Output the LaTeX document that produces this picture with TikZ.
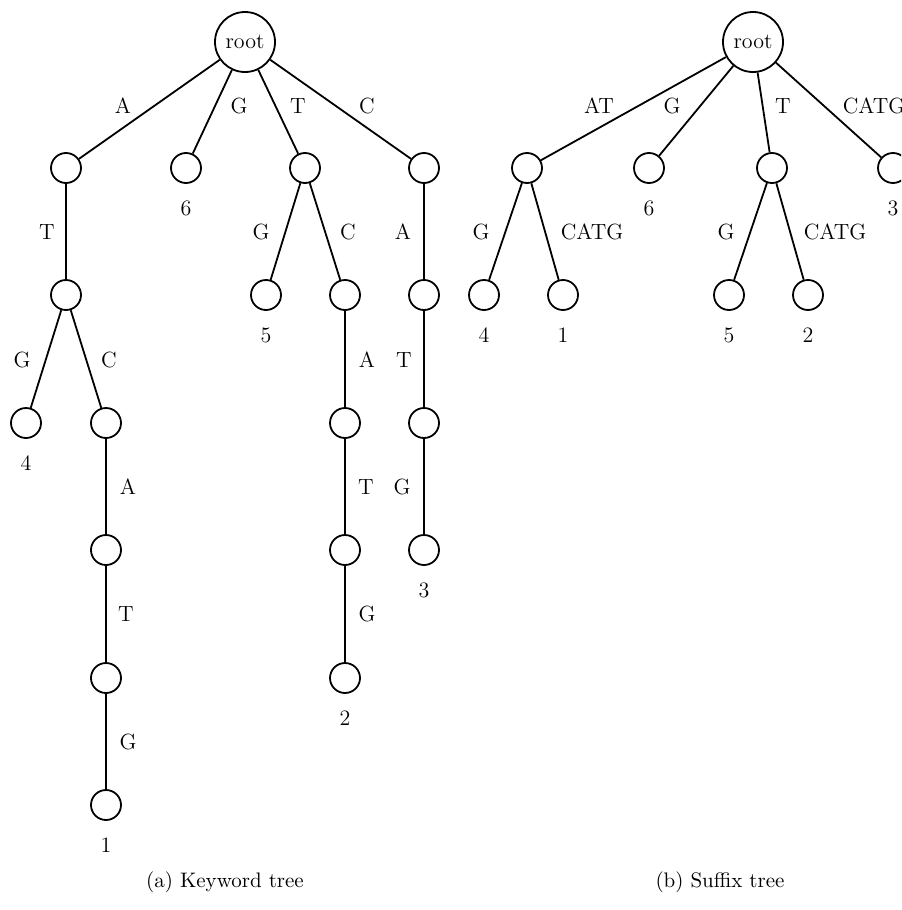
\documentclass[tikz,border=0pt]{standalone}
\begin{document}
\begin{tikzpicture}[x=0.5pt,y=-0.5pt,
  nd/.style={circle,draw,line width=0.9pt,inner sep=0pt,minimum size=15pt},
  rootnd/.style={circle,draw,line width=0.9pt,inner sep=0pt,minimum size=30pt,font=\fontsize{11}{13}\selectfont},
  lbl/.style={font=\fontsize{11}{13}\selectfont,inner sep=0pt},
  captxt/.style={font=\fontsize{10.5}{12}\selectfont,inner sep=0pt},
  conn/.style={draw,line width=0.9pt}]
\clip (0,0) rectangle (901,910);
\useasboundingbox (0,0) rectangle (901,910);
% ---------- (a) keyword tree ----------
\node[rootnd] (r) at (245,42) {root};
\node[nd] (a1) at (66,168) {};
\node[nd] (g1) at (186,168) {};
\node[nd] (t1) at (305,168) {};
\node[nd] (c1) at (424,168) {};
\node[nd] (at) at (66,295) {};
\node[nd] (tg) at (266,295) {};
\node[nd] (tc) at (345,295) {};
\node[nd] (ca) at (424,295) {};
\node[nd] (atg) at (26,423) {};
\node[nd] (atc) at (106,423) {};
\node[nd] (tca) at (345,423) {};
\node[nd] (cat) at (424,423) {};
\node[nd] (atca) at (106,550) {};
\node[nd] (tcat) at (345,550) {};
\node[nd] (catg) at (424,550) {};
\node[nd] (atcat) at (106,678) {};
\node[nd] (tcatg) at (345,678) {};
\node[nd] (atcatg) at (106,805) {};
\foreach \u/\v in {r/a1,r/g1,r/t1,r/c1,a1/at,t1/tg,t1/tc,c1/ca,at/atg,at/atc,tc/tca,ca/cat,atc/atca,tca/tcat,cat/catg,atca/atcat,tcat/tcatg,atcat/atcatg}
  \draw[conn] (\u) -- (\v);
% edge labels
\node[lbl] (l1) at (123,106) {A};
\node[lbl] (l2) at (239,106) {G};
\node[lbl] (l3) at (298,106) {T};
\node[lbl] (l4) at (367,106) {C};
\node[lbl] (l5) at (47,232) {T};
\node[lbl] (l6) at (261,232) {G};
\node[lbl] (l7) at (348,232) {C};
\node[lbl] (l8) at (403,232) {A};
\node[lbl] (l9) at (22,360) {G};
\node[lbl] (l10) at (109,360) {C};
\node[lbl] (l11) at (367,360) {A};
\node[lbl] (l12) at (404,360) {T};
\node[lbl] (l13) at (128,487) {A};
\node[lbl] (l14) at (366,487) {T};
\node[lbl] (l15) at (402,487) {G};
\node[lbl] (l16) at (126,614) {T};
\node[lbl] (l17) at (367,614) {G};
\node[lbl] (l18) at (128,742) {G};
% leaf numbers
\node[lbl] (n6) at (186,208) {6};
\node[lbl] (n5) at (266,335) {5};
\node[lbl] (n4) at (26,463) {4};
\node[lbl] (n3) at (424,590) {3};
\node[lbl] (n2) at (345,718) {2};
\node[lbl] (n1) at (106,845) {1};
% ---------- (b) suffix tree ----------
\node[rootnd] (R) at (753,42) {root};
\node[nd] (A1) at (527,168) {};
\node[nd] (G1) at (649,168) {};
\node[nd] (T1) at (772,168) {};
\node[nd] (C1) at (893,168) {};
\node[nd] (AG) at (484,295) {};
\node[nd] (AC) at (563,295) {};
\node[nd] (TG) at (729,295) {};
\node[nd] (TC) at (808,295) {};
\foreach \u/\v in {R/A1,R/G1,R/T1,R/C1,A1/AG,A1/AC,T1/TG,T1/TC}
  \draw[conn] (\u) -- (\v);
\node[lbl] (L1) at (599,106) {AT};
\node[lbl] (L2) at (672,106) {G};
\node[lbl] (L3) at (783,106) {T};
\node[lbl] (L4) at (874,106) {CATG};
\node[lbl] (L5) at (481,232) {G};
\node[lbl] (L6) at (592,232) {CATG};
\node[lbl] (L7) at (726,232) {G};
\node[lbl] (L8) at (835,232) {CATG};
\node[lbl] (N6) at (649,208) {6};
\node[lbl] (N3) at (893,208) {3};
\node[lbl] (N4) at (484,335) {4};
\node[lbl] (N1) at (563,335) {1};
\node[lbl] (N5) at (729,335) {5};
\node[lbl] (N2) at (808,335) {2};
% captions
\node[captxt] (capa) at (225,882) {(a) Keyword tree};
\node[captxt] (capb) at (720,882) {(b) Suffix tree};
\end{tikzpicture}
\end{document}
